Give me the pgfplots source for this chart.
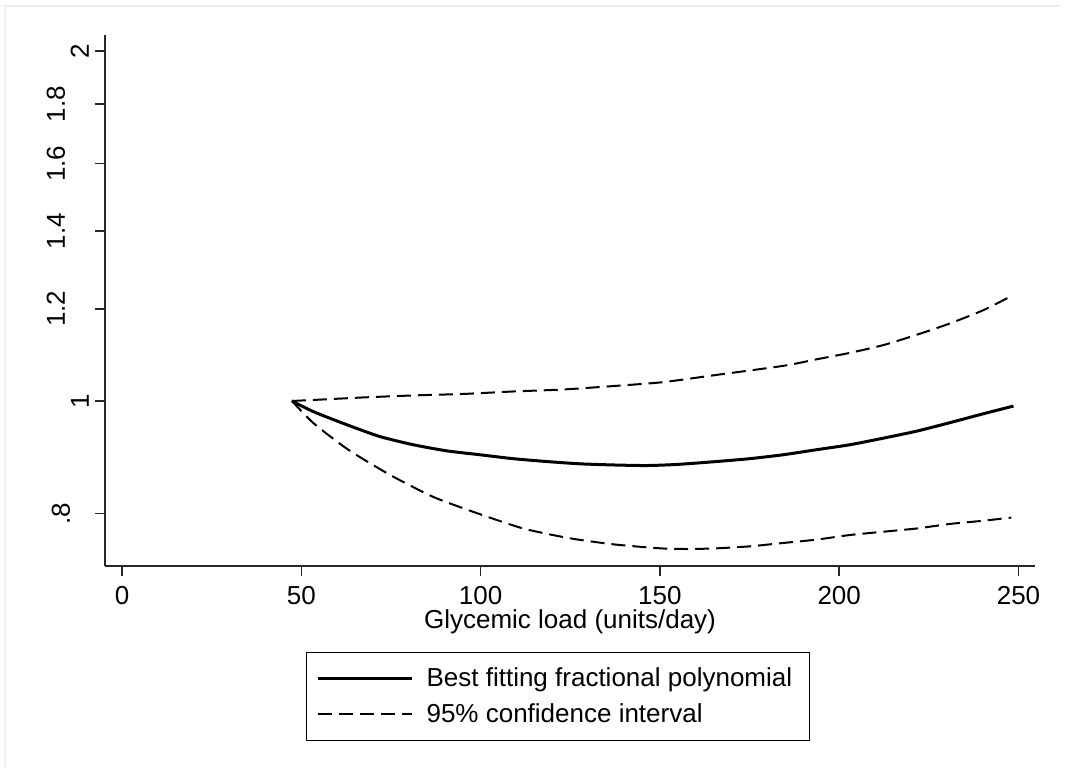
\documentclass[border=0pt]{standalone}
\usepackage{fontspec}
\setmainfont{Liberation Sans}
\usepackage{pgfplots}
\pgfplotsset{compat=1.18}
\definecolor{framegray}{RGB}{232,240,242}
\begin{document}
\begin{tikzpicture}
\path[use as bounding box,fill=white] (0,0) rectangle (532.5pt,386.5pt);
\draw[framegray,line width=0.6pt] (2.5pt,3pt) -- (2.5pt,383.5pt) -- (530pt,383.5pt);
\begin{axis}[
  at={(52.5pt,103.5pt)}, anchor=south west,
  scale only axis, width=465pt, height=265.5pt,
  xmin=-4.74, xmax=254.6,
  ymode=log, ymin=0.7213, ymax=2.064,
  axis x line*=bottom, axis y line*=left,
  axis line style={line width=0.9pt, black!85},
  tick align=outside, major tick length=5pt,
  tick style={line width=0.8pt, black!85},
  minor tick num=0,
  xtick={0,50,100,150,200,250},
  ytick={0.8,1,1.2,1.4,1.6,1.8,2},
  yticklabels={\raisebox{9.5pt}{.8},1,\raisebox{12pt}{1.2},\raisebox{12pt}{1.4},\raisebox{12pt}{1.6},\raisebox{12pt}{1.8},2},
  log ticks with fixed point,
  /pgf/number format/assume math mode=true,
  ticklabel style={font=\fontsize{13}{15}\selectfont},
  yticklabel style={rotate=90, anchor=south},
  yticklabel shift=-0.5pt,
  xticklabel shift=1.5pt,
  xlabel={Glycemic load (units/day)},
  xlabel style={font=\fontsize{13}{15}\selectfont, yshift=4.5pt},
  legend style={at={(rel axis cs:0.2161,-0.162)}, anchor=north west,
    draw=black, line width=0.6pt, font=\fontsize{13}{15}\selectfont,
    inner xsep=5pt, inner ysep=6pt, row sep=4pt, column sep=3pt,
    nodes={inner ysep=1.5pt, inner xsep=3.5pt},
    cells={anchor=west}},
  legend image code/.code={\draw[#1] (0pt,0pt) -- (47pt,0pt);},
  legend cell align=left,
]
\addplot[black, line width=1.5pt, smooth, tension=0.4] coordinates {
(47.4,1.000) (53.4,0.979) (62.7,0.954) (71.9,0.932) (81.2,0.917)
(90.5,0.906) (99.8,0.899) (109.1,0.892) (118.4,0.887) (127.7,0.883)
(137.0,0.881) (146.3,0.880) (155,0.882) (165.8,0.887) (175,0.892)
(184.4,0.899) (193.7,0.908) (203,0.917) (212.3,0.929) (221.6,0.942)
(230.9,0.958) (240.2,0.975) (248.6,0.990)
};
\addlegendentry{Best fitting fractional polynomial}
\addplot[black, line width=1pt, dash pattern=on 7pt off 3.5pt, smooth, tension=0.4] coordinates {
(47.4,1.000) (53.4,1.002) (67.3,1.007) (81.2,1.011) (95.2,1.014)
(109.1,1.019) (123,1.023) (137,1.030) (150.9,1.038) (165.8,1.053)
(184.4,1.072) (193.7,1.086) (203,1.100) (212.3,1.117) (221.6,1.140)
(230.9,1.166) (240.2,1.197) (248,1.231)
};
\addlegendentry{95\% confidence interval}
\addplot[black, line width=1pt, dash pattern=on 7pt off 3.5pt, smooth, tension=0.4, forget plot] coordinates {
(47.4,1.000) (53.4,0.957) (63.1,0.908) (74.7,0.864) (86.8,0.827)
(98.9,0.801) (111.9,0.777) (124.9,0.762) (137,0.753) (150,0.747)
(158,0.746) (165.8,0.747) (175.1,0.750) (184.4,0.755) (193.7,0.760)
(203,0.767) (212.3,0.772) (221.6,0.777) (230.9,0.784) (240.2,0.789)
(248,0.794)
};
\end{axis}
\end{tikzpicture}
\end{document}
